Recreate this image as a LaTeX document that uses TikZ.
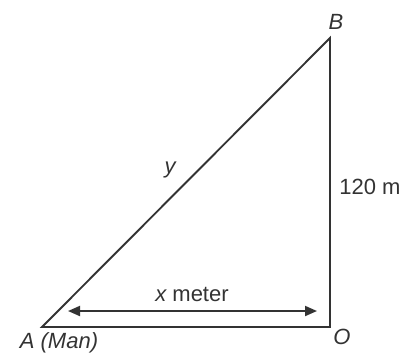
\documentclass[tikz,border=0pt]{standalone}
\usepackage{fontspec}
\setmainfont{Liberation Sans}
\usetikzlibrary{positioning, calc, arrows.meta}
\definecolor{inkgray}{HTML}{333333}
\begin{document}
\begin{tikzpicture}[x=1pt, y=-1pt, line width=1.9pt, draw=inkgray,
    lbl/.style={text=inkgray, font=\fontsize{22}{26}\selectfont, inner sep=0pt}]
    \useasboundingbox (0,0) rectangle (417,354);

    % Vertices of the triangle
    \coordinate (A) at (42,327);
    \coordinate (O) at (330,327);
    \coordinate (B) at (330,38);

    % Triangle
    \draw[inkgray, line join=miter] (A) -- (O) -- (B) -- cycle;

    % Distance arrow
    \coordinate (xl) at (68,311);
    \coordinate (xr) at (317,311);
    \draw[inkgray, {Triangle[length=12pt, width=10pt]}-{Triangle[length=12pt, width=10pt]}] (xl) -- (xr);

    % Labels
    \node[lbl] (labB) at (336,22) {\itshape B};
    \node[lbl] (labO) at (342,337) {\itshape O};
    \node[lbl] (labA) at (59,343) {\itshape A (Man)};
    \node[lbl] (labh) at (370,187) {120 m};
    \node[lbl] (labx) at (192,294) {\itshape x\upshape\ meter};
    \node[lbl] (laby) at (170,170) {\itshape y};
\end{tikzpicture}
\end{document}
